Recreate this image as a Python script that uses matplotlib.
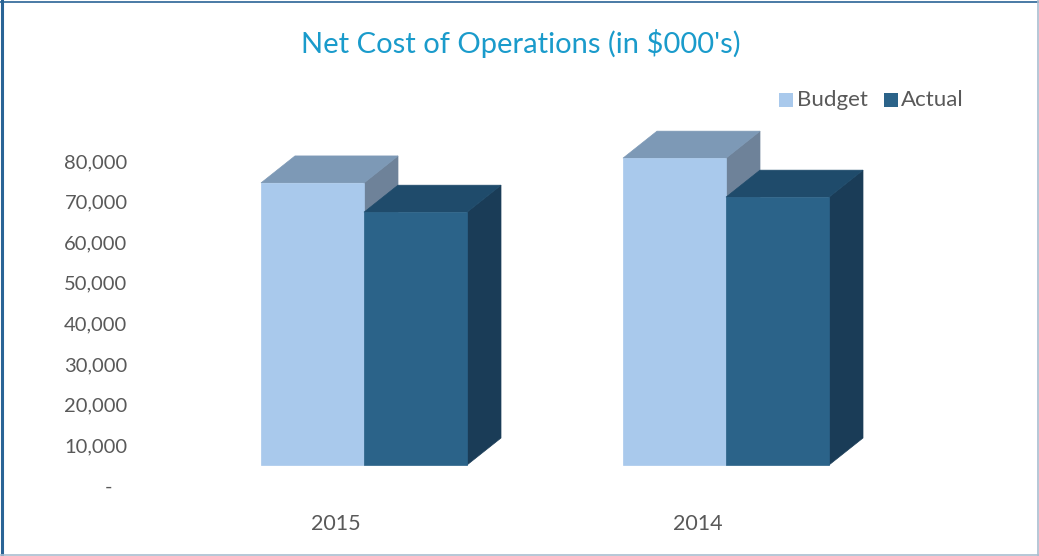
import matplotlib
matplotlib.use("Agg")
import matplotlib.pyplot as plt
from matplotlib.patches import Polygon, Rectangle
from matplotlib.lines import Line2D

# ---- data ----
years = ["2015", "2014"]
series_names = ["Budget", "Actual"]
budget = [74600, 80700]
actual = [67400, 71100]
y_ticks = [0, 10000, 20000, 30000, 40000, 50000, 60000, 70000, 80000]
y_tick_labels = ["-   ", "10,000", "20,000", "30,000", "40,000", "50,000",
                 "60,000", "70,000", "80,000"]

# ---- style ----
W, H = 1039, 556
FONT = ["Lato", "DejaVu Sans"]
TEXT_C = "#595959"
TITLE_C = "#1A9BCB"
colors = {
    "Budget": {"front": "#A9C9EC", "top": "#7D99B6", "side": "#6E8299"},
    "Actual": {"front": "#2B6389", "top": "#1F4B6B", "side": "#1A3C57"},
}

fig = plt.figure(figsize=(W / 100, H / 100), dpi=100)
fig.patch.set_facecolor("white")

# axes placement in pixels
ax_left_px, ax_right_px = 140, W
ax_bottom_px, ax_top_px = 486, 120
px_per_unit = (486 - 161) / 80000.0
ax = fig.add_axes([ax_left_px / W, (H - ax_bottom_px) / H,
                   (ax_right_px - ax_left_px) / W,
                   (ax_bottom_px - ax_top_px) / H])
group_px = 362.0
x0_px = 364.0
ax.set_xlim(-(x0_px - ax_left_px) / group_px, (ax_right_px - x0_px) / group_px)
ax.set_ylim(0, (ax_bottom_px - ax_top_px) / px_per_unit)
ax.set_facecolor("none")
for s in ax.spines.values():
    s.set_visible(False)

# 3D-look geometry
w = 103 / group_px
dx = 34 / group_px
dy = 27 / px_per_unit
floor = (486 - 465) / px_per_unit


def draw_bar(x0, v, c):
    front = Polygon([(x0, floor), (x0 + w, floor), (x0 + w, v), (x0, v)],
                    closed=True, facecolor=c["front"], edgecolor=c["front"], lw=0.5)
    top = Polygon([(x0, v), (x0 + w, v), (x0 + w + dx, v + dy), (x0 + dx, v + dy)],
                  closed=True, facecolor=c["top"], edgecolor=c["top"], lw=0.5)
    side = Polygon([(x0 + w, floor), (x0 + w + dx, floor + dy),
                    (x0 + w + dx, v + dy), (x0 + w, v)],
                   closed=True, facecolor=c["side"], edgecolor=c["side"], lw=0.5)
    for p in (side, top, front):
        p.set_clip_on(False)
        ax.add_patch(p)


for i, (b, a) in enumerate(zip(budget, actual)):
    draw_bar(i - w, b, colors["Budget"])
    draw_bar(i, a, colors["Actual"])

# ticks
label_shift = -28 / group_px
ax.set_xticks([i + label_shift for i in range(len(years))])
ax.set_xticklabels(years, fontsize=15.5, color=TEXT_C, family=FONT)
ax.tick_params(axis="x", length=0, pad=20)
ax.set_yticks(y_ticks)
ax.set_yticklabels(y_tick_labels, fontsize=14.5, color=TEXT_C, family=FONT)
ax.tick_params(axis="y", length=0, pad=9)

# title
fig.text(521 / W, 1 - 44 / H, "Net Cost of Operations (in $000's)",
         ha="center", va="center", fontsize=21, color=TITLE_C, family=FONT)

# legend
leg_y = 100
for name, sx, tx in [("Budget", 779, 797), ("Actual", 884, 901)]:
    fig.patches.append(Rectangle((sx / W, 1 - 107 / H), 14 / W, 14 / H,
                                 transform=fig.transFigure,
                                 facecolor=colors[name]["front"], edgecolor="none"))
    fig.text(tx / W, 1 - leg_y / H, name, ha="left", va="center",
             fontsize=16, color=TEXT_C, family=FONT)

# border
fig.add_artist(Line2D([1.5 / W, 1.5 / W], [0, 1], transform=fig.transFigure,
                      color="#2A6496", lw=2.2))
fig.add_artist(Line2D([0, 1038 / W], [1 - 1.5 / H, 1 - 1.5 / H],
                      transform=fig.transFigure, color="#2A6496", lw=1.2))
fig.add_artist(Line2D([1037.5 / W, 1037.5 / W], [0, 1], transform=fig.transFigure,
                      color="#A9BDD0", lw=1.2))
fig.add_artist(Line2D([0, 1], [1 - 554.5 / H, 1 - 554.5 / H],
                      transform=fig.transFigure, color="#A9BDD0", lw=1.2))

fig.savefig("out.png", dpi=100, facecolor="white")
